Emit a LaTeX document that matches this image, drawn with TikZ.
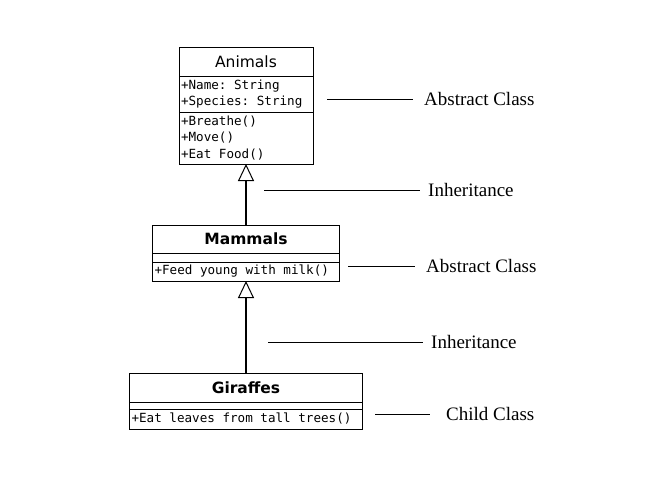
\documentclass[tikz,border=0pt]{standalone}
\usepackage{fontspec}
\setmainfont{Liberation Serif}
\setsansfont{DejaVu Sans}
\setmonofont{DejaVu Sans Mono}
\usepackage{tikz}
\usetikzlibrary{arrows.meta,positioning}
\tikzset{
  umlbox/.style={draw, rectangle, line width=1pt, outer sep=0pt, inner sep=0pt},
  classname/.style={umlbox, font=\fontsize{15.5}{18}\selectfont\sffamily},
  boldname/.style={umlbox, font=\fontsize{15.5}{18}\selectfont\sffamily\bfseries},
  members/.style={umlbox, text width=#1, align=left, inner xsep=2pt,
    font=\fontsize{12.6}{16.5}\selectfont\ttfamily,
    execute at begin node={\spaceskip=0pt\xspaceskip=0pt}},
  emptypart/.style={umlbox},
  note/.style={anchor=west, inner sep=0pt, font=\fontsize{19}{22}\selectfont},
  pointer/.style={line width=1pt},
  generalize/.style={line width=2.2pt, -{Triangle[open, length=17pt, width=16pt, line width=1pt]}}
}

\begin{document}
\begin{tikzpicture}[x=1pt, y=-1pt, node distance=0pt]
\useasboundingbox (0,0) rectangle (654,501);

% Animals (abstract)
\node[classname, minimum width=134pt, minimum height=29pt] (anim) at (246,61.5) {Animals};
\node[members=130pt, minimum height=36pt, below=of anim] (anim-attr) {+Name: String\\+Species: String};
\node[members=130pt, minimum height=52pt, below=of anim-attr] (anim-meth) {+Breathe()\\+Move()\\+Eat Food()};

% Mammals (abstract)
\node[boldname, minimum width=187pt, minimum height=28pt, below=61pt of anim-meth] (mam) {Mammals};
\node[emptypart, minimum width=187pt, minimum height=9pt, below=of mam] (mam-attr) {};
\node[members=183pt, minimum height=19pt, below=of mam-attr] (mam-meth) {+Feed young with milk()};

% Giraffes (child)
\node[boldname, minimum width=233pt, minimum height=29pt, below=92pt of mam-meth] (gir) {Giraffes};
\node[emptypart, minimum width=233pt, minimum height=7pt, below=of gir] (gir-attr) {};
\node[members=229pt, minimum height=20pt, below=of gir-attr] (gir-meth) {+Eat leaves from tall trees()};

% Inheritance arrows
\draw[generalize] (mam) -- (anim-meth);
\draw[generalize] (gir) -- (mam-meth);

% Side notes
\coordinate (c1) at (327,99);
\node[note] (lab1) at (424,99) {Abstract Class};
\draw[pointer] (c1) -- ([xshift=-11pt]lab1.west);

\coordinate (c2) at (264,190);
\node[note] (lab2) at (428,190) {Inheritance};
\draw[pointer] (c2) -- ([xshift=-8pt]lab2.west);

\coordinate (c3) at (348,266);
\node[note] (lab3) at (426,266) {Abstract Class};
\draw[pointer] (c3) -- ([xshift=-11pt]lab3.west);

\coordinate (c4) at (268,342);
\node[note] (lab4) at (431,342) {Inheritance};
\draw[pointer] (c4) -- ([xshift=-8pt]lab4.west);

\coordinate (c5) at (375,414);
\node[note] (lab5) at (446,414) {Child Class};
\draw[pointer] (c5) -- ([xshift=-16pt]lab5.west);

\end{tikzpicture}
\end{document}
